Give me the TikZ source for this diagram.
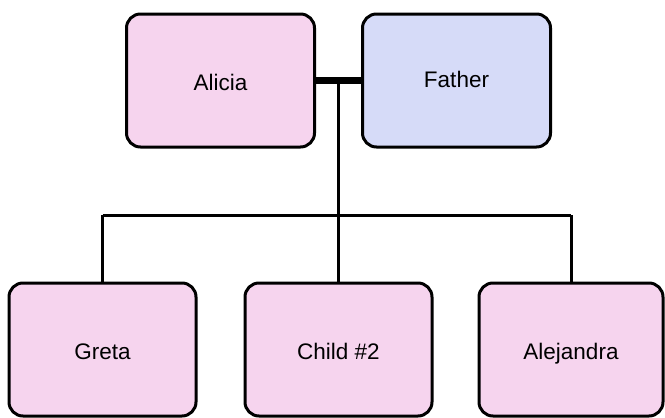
\documentclass[tikz,border=0pt]{standalone}
\usepackage{fontspec}
\setmainfont{Liberation Sans}
\definecolor{pinkfill}{HTML}{F6D4EE}
\definecolor{bluefill}{HTML}{D6DBF8}
\begin{document}
\begin{tikzpicture}[x=1pt,y=-1pt,
  person/.style={draw=black,line width=3pt,rounded corners=14pt,minimum width=188pt,minimum height=133pt,font=\fontsize{22.5}{26}\selectfont,inner sep=0pt,text height=20pt,text depth=0pt},
  link/.style={draw=black,line width=3pt}]
\useasboundingbox (0,0) rectangle (665,418);
\node[person,fill=pinkfill] (alicia) at (220.5,80.5) {Alicia};
\node[person,fill=bluefill] (father) at (456.5,80.5) {\raisebox{3pt}{Father}};
\node[person,fill=pinkfill,minimum width=187pt] (greta) at (102.5,349.5) {Greta};
\node[person,fill=pinkfill,minimum width=187pt] (child) at (338.5,349.5) {Child \#2};
\node[person,fill=pinkfill,minimum width=184pt] (alej) at (571,349.5) {Alejandra};
\draw[draw=black,line width=7pt] (alicia.east) -- (father.west);
\coordinate (m) at (338,80.5);
\coordinate (hb) at (338,215);
\draw[link] (m) -- (hb);
\draw[link] (greta.north |- hb) -- (alej.north |- hb);
\draw[link] (greta.north |- hb) -- (greta.north);
\draw[link] (child.north |- hb) -- (child.north);
\draw[link] (alej.north |- hb) -- (alej.north);
\end{tikzpicture}
\end{document}
